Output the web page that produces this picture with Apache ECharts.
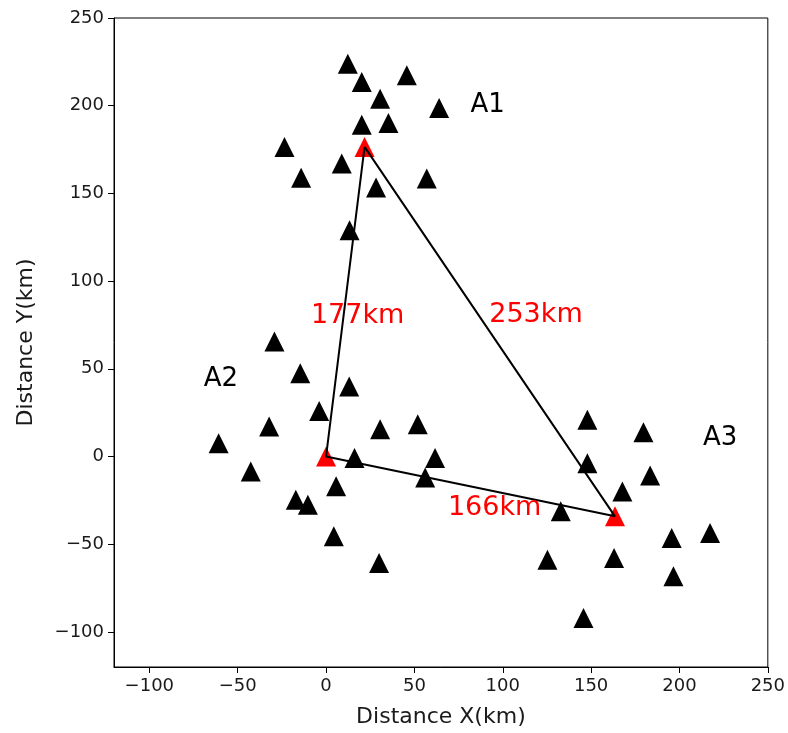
<!DOCTYPE html>
<html>
<head>
<meta charset="utf-8">
<script src="https://cdn.jsdelivr.net/npm/echarts@6/dist/echarts.min.js"></script>
<style>
html,body{margin:0;padding:0;background:#fff;}
#chart{width:788px;height:733px;}
</style>
</head>
<body>
<div id="chart"></div>
<script>
// Stations (black triangles) in km
const stationsA1 = [
  [12.3, 223.9], [20.2, 213.5], [45.7, 217.3], [30.6, 204.0], [64.0, 198.7],
  [20.2, 189.2], [35.3, 190.2], [-23.5, 176.5], [8.9, 167.0], [-14.1, 158.9],
  [28.3, 153.3], [57.0, 158.5], [13.3, 129.0]
];
const stationsA2 = [
  [-29.2, 65.5], [-14.6, 47.5], [13.1, 39.9], [-3.9, 26.0], [-32.2, 17.1],
  [30.6, 15.6], [51.9, 18.4], [-60.8, 7.6], [16.1, -0.9], [61.7, -0.9],
  [-42.6, -8.5], [56.1, -11.9], [5.7, -17.0], [-17.1, -24.6], [-10.3, -27.5],
  [4.4, -45.5], [30.0, -60.7]
];
const stationsA3 = [
  [147.9, 20.9], [179.6, 13.9], [147.9, -3.8], [183.4, -10.8], [167.7, -19.9],
  [132.8, -31.2], [195.6, -46.4], [217.3, -43.6], [125.3, -58.8], [163.0, -57.8],
  [196.6, -68.2], [145.7, -92.0]
];
// Array centers (red triangles)
const centers = [[21.8, 176.5], [0, 0], [163.5, -34.1]];
// Triangle connecting the centers
const triangleOrder = [0, 1, 2, 0];
// Text annotations
const groupLabels = [
  { text: 'A1', pos: [91.4, 200.3] },
  { text: 'A2', pos: [-59.5, 44] },
  { text: 'A3', pos: [223, 10.5] }
];
const distanceLabels = [
  { text: '177km', pos: [17.9, 79.9] },
  { text: '253km', pos: [118.8, 80.5] },
  { text: '166km', pos: [95.4, -29.4] }
];
const tickValues = [-100, -50, 0, 50, 100, 150, 200, 250];
const axisRange = { min: -120, max: 250 };

const FONT = 'DejaVu Sans';
const chart = echarts.init(document.getElementById('chart'));

function tickFmt(v) {
  return v < 0 ? '\u2212' + Math.abs(v) : String(v);
}

function makeAxis(name, gap) {
  return {
    type: 'value',
    min: axisRange.min, max: axisRange.max, interval: 10,
    splitLine: { show: false },
    axisLine: { show: true, onZero: false, lineStyle: { color: '#000', width: 1 } },
    axisTick: { show: true, inside: false, length: 6, customValues: tickValues,
      lineStyle: { color: '#000', width: 1 } },
    axisLabel: { fontFamily: FONT, fontSize: 18, color: '#1a1a1a', margin: 10,
      customValues: tickValues, formatter: v => tickFmt(v) },
    name: name, nameGap: gap, nameLocation: 'middle',
    nameTextStyle: { fontFamily: FONT, fontSize: 22, color: '#1a1a1a' }
  };
}

chart.setOption({
  animation: false,
  backgroundColor: '#fff',
  grid: {
    left: 114, right: 20, top: 18, bottom: 65,
    show: true, borderColor: '#000', borderWidth: 1, backgroundColor: 'transparent'
  },
  xAxis: makeAxis('Distance X(km)', 39),
  yAxis: makeAxis('Distance Y(km)', 77),
  series: [
    {
      type: 'scatter', symbol: 'triangle', symbolSize: 20, z: 2,
      itemStyle: { color: '#000', opacity: 1 },
      data: stationsA1.concat(stationsA2, stationsA3)
    },
    {
      type: 'scatter', symbol: 'triangle', symbolSize: 20, z: 3,
      itemStyle: { color: '#ff0000', opacity: 1 },
      data: centers
    },
    {
      type: 'line', z: 4, symbol: 'none', showSymbol: false,
      lineStyle: { color: '#000', width: 2 },
      data: triangleOrder.map(i => centers[i])
    },
    {
      type: 'scatter', symbolSize: 0, z: 5, silent: true,
      itemStyle: { opacity: 1 },
      label: { show: true, position: 'inside', formatter: p => p.data.name,
        fontFamily: FONT, fontSize: 26, color: '#000' },
      data: groupLabels.map(d => ({ name: d.text, value: d.pos }))
    },
    {
      type: 'scatter', symbolSize: 0, z: 5, silent: true,
      itemStyle: { opacity: 1 },
      label: { show: true, position: 'inside', formatter: p => p.data.name,
        fontFamily: FONT, fontSize: 27, color: '#ff0000' },
      data: distanceLabels.map(d => ({ name: d.text, value: d.pos }))
    }
  ]
});
</script>
</body>
</html>
